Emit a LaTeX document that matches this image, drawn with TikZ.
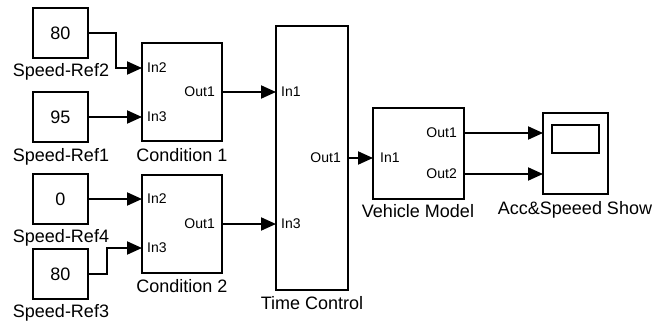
\documentclass[tikz,border=0pt]{standalone}
\usepackage{fontspec}
\setmainfont{Liberation Sans}
\usepackage{tikz}
\usetikzlibrary{arrows.meta}
\tikzset{fig/.style={line join=miter,>={Triangle[length=15pt,width=13pt]}},
  blk/.style={draw,line width=2pt,inner sep=0pt,outer sep=0pt,anchor=north west,font=\fontsize{18}{20}\selectfont},
  lbl/.style={inner sep=0pt,font=\fontsize{18}{20}\selectfont,text height=13pt,text depth=4pt},
  port/.style={inner sep=0pt,font=\fontsize{14}{16}\selectfont},
  sig/.style={line width=2pt,->}}

\begin{document}
\begin{tikzpicture}[fig,x=1pt,y=-1pt]
  \useasboundingbox(0,0)rectangle(654,324);
  % sources
  \node[blk,minimum width=55,minimum height=50](sr2)at(33,8){80};\node[lbl](sr2l)at(61,72){Speed-Ref2};
  \node[blk,minimum width=55,minimum height=50](sr1)at(33,92){95};\node[lbl](sr1l)at(61,157){Speed-Ref1};
  \node[blk,minimum width=55,minimum height=50](sr4)at(33,174){0};\node[lbl](sr4l)at(61,238){Speed-Ref4};
  \node[blk,minimum width=55,minimum height=50](sr3)at(33,249){80};\node[lbl](sr3l)at(61,313){Speed-Ref3};
  % conditions
  \node[blk,minimum width=80,minimum height=98](c1)at(142,43){};\node[lbl](c1l)at(182,157){Condition 1};
  \node[blk,minimum width=80,minimum height=98](c2)at(142,175){};\node[lbl](c2l)at(182,288){Condition 2};
  \coordinate(c1in2)at(142,68);\coordinate(c1in3)at(142,117);\coordinate(c1out)at(222,92);
  \coordinate(c2in2)at(142,199);\coordinate(c2in3)at(142,248);\coordinate(c2out)at(222,224);
  \node[port,right=5pt](c1p2)at(c1in2){In2};\node[port,right=5pt](c1p3)at(c1in3){In3};\node[port,left=7pt](c1po)at(c1out){Out1};
  \node[port,right=5pt](c2p2)at(c2in2){In2};\node[port,right=5pt](c2p3)at(c2in3){In3};\node[port,left=7pt](c2po)at(c2out){Out1};
  % time control
  \node[blk,minimum width=72,minimum height=264](tc)at(276,26){};\node[lbl](tcl)at(312,305){Time Control};
  \coordinate(tcin1)at(276,92);\coordinate(tcin3)at(276,224);\coordinate(tcout)at(348,158);
  \node[port,right=5pt](tcp1)at(tcin1){In1};\node[port,right=5pt](tcp3)at(tcin3){In3};\node[port,left=7pt](tcpo)at(tcout){Out1};
  % vehicle model
  \node[blk,minimum width=91,minimum height=91](vm)at(373,108){};\node[lbl](vml)at(418,213){Vehicle Model};
  \coordinate(vmin1)at(373,158);\coordinate(vmout1)at(464,133);\coordinate(vmout2)at(464,174);
  \node[port,right=7pt](vmp1)at(vmin1){In1};\node[port,left=7pt](vmpo1)at(vmout1){Out1};\node[port,left=7pt](vmpo2)at(vmout2){Out2};
  % scope
  \node[blk,minimum width=65,minimum height=81](sc)at(543,113){};\node[lbl](scl)at(575,210){Acc\&Speeed Show};
  \draw[line width=2pt](552,125)rectangle(599,153);
  \coordinate(scin1)at(543,133);\coordinate(scin2)at(543,174);
  % signals
  \draw[sig](sr2.east)--++(28,0)|-(c1in2);
  \draw[sig](sr1.east)--(c1in3);
  \draw[sig](sr4.east)--(c2in2);
  \draw[sig](sr3.east)--++(19,0)|-(c2in3);
  \draw[sig](c1.east)--(tcin1);
  \draw[sig](c2.east)--(tcin3);
  \draw[sig](tc.east)--(vmin1);
  \draw[sig](vmout1)--(scin1);
  \draw[sig](vmout2)--(scin2);
\end{tikzpicture}
\end{document}
